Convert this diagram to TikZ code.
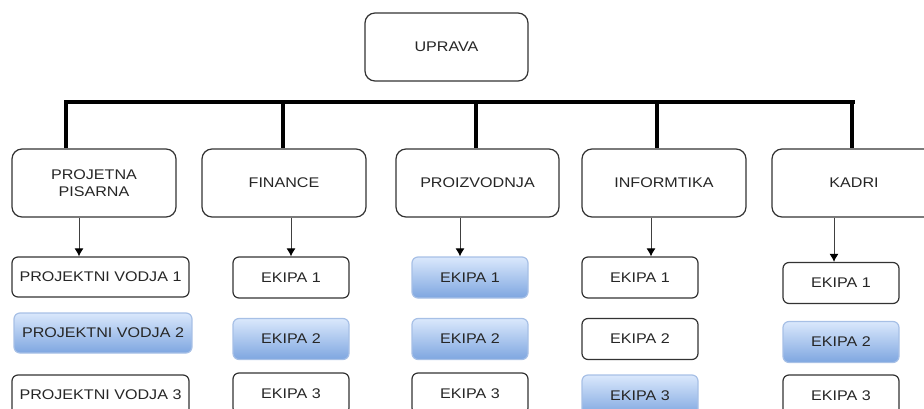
\documentclass[tikz,border=0pt]{standalone}
\usepackage{fontspec}
\setmainfont{Liberation Sans}[FakeStretch=1.15]
\usetikzlibrary{arrows.meta}
\definecolor{hitop}{HTML}{DAE8FC}
\definecolor{hibot}{HTML}{7EA6E0}
\definecolor{hiedge}{HTML}{A7C0E6}
\begin{document}
\begin{tikzpicture}[x=1pt,y=-1pt,
  every node/.style={font=\fontsize{14}{17}\selectfont, text=black!85, align=center, inner sep=0pt},
  unit/.style={draw=black!80, line width=1.2pt, rounded corners=10pt, fill=white},
  team/.style={draw=black!80, line width=1.2pt, rounded corners=6pt, fill=white, minimum width=116pt, minimum height=41pt},
  teamhi/.style={team, draw=hiedge, top color=hitop, bottom color=hibot},
  trunk/.style={line width=4pt, black},
  feed/.style={draw=black!75, line width=1pt, -{Latex[length=8pt,width=9pt,color=black]}}
]
\useasboundingbox (0,0) rectangle (924,409);
\clip (0,0) rectangle (924,409);

% top level
\node[unit, minimum width=163pt, minimum height=68pt] (uprava) at (446.5,47) {UPRAVA};

% departments
\node[unit, minimum width=164pt, minimum height=68pt] (pp)  at (94,183)  {PROJETNA\\PISARNA};
\node[unit, minimum width=164pt, minimum height=68pt] (fin) at (284,183) {FINANCE};
\node[unit, minimum width=163pt, minimum height=68pt] (pro) at (477.5,183) {PROIZVODNJA};
\node[unit, minimum width=164pt, minimum height=68pt] (inf) at (664,183) {INFORMTIKA};
\node[unit, minimum width=164pt, minimum height=68pt] (kad) at (854,183) {KADRI};

% distribution bar and drops
\coordinate (barL) at (64,102);
\coordinate (barR) at (855,102);
\coordinate (d1) at (66,102);
\coordinate (d2) at (283,102);
\coordinate (d3) at (476,102);
\coordinate (d4) at (657,102);
\coordinate (d5) at (852,102);
\draw[trunk] (barL) -- (barR);
\draw[trunk] (d1) -- (pp.north -| d1);
\draw[trunk] (d2) -- (fin.north -| d2);
\draw[trunk] (d3) -- (pro.north -| d3);
\draw[trunk] (d4) -- (inf.north -| d4);
\draw[trunk] (d5) -- (kad.north -| d5);

% project office
\node[team, minimum width=177pt, minimum height=40pt] (pv1) at (100.5,277) {PROJEKTNI VODJA 1};
\node[teamhi, minimum width=178pt, minimum height=40pt] (pv2) at (103,333) {PROJEKTNI VODJA 2};
\node[team, minimum width=177pt, minimum height=40pt] (pv3) at (100.5,395) {PROJEKTNI VODJA 3};

% finance
\node[team] (f1) at (291,277.5) {EKIPA 1};
\node[teamhi] (f2) at (291,339) {EKIPA 2};
\node[team] (f3) at (291,393.5) {EKIPA 3};

% production
\node[teamhi] (p1) at (470,277.5) {EKIPA 1};
\node[teamhi] (p2) at (470,339) {EKIPA 2};
\node[team] (p3) at (470,393.5) {EKIPA 3};

% IT
\node[team] (i1) at (640,277.5) {EKIPA 1};
\node[team] (i2) at (640,339) {EKIPA 2};
\node[teamhi] (i3) at (640,395.5) {EKIPA 3};

% staff
\node[team] (k1) at (841,283) {EKIPA 1};
\node[teamhi] (k2) at (841,342) {EKIPA 2};
\node[team] (k3) at (841,395.5) {EKIPA 3};

% arrows to first team
\coordinate (a1) at (79,0);
\coordinate (a2) at (291,0);
\coordinate (a3) at (460,0);
\coordinate (a4) at (651,0);
\coordinate (a5) at (834,0);
\draw[feed] (pp.south -| a1) -- (pv1.north -| a1);
\draw[feed] (fin.south -| a2) -- (f1.north -| a2);
\draw[feed] (pro.south -| a3) -- (p1.north -| a3);
\draw[feed] (inf.south -| a4) -- (i1.north -| a4);
\draw[feed] (kad.south -| a5) -- (k1.north -| a5);
\end{tikzpicture}
\end{document}
